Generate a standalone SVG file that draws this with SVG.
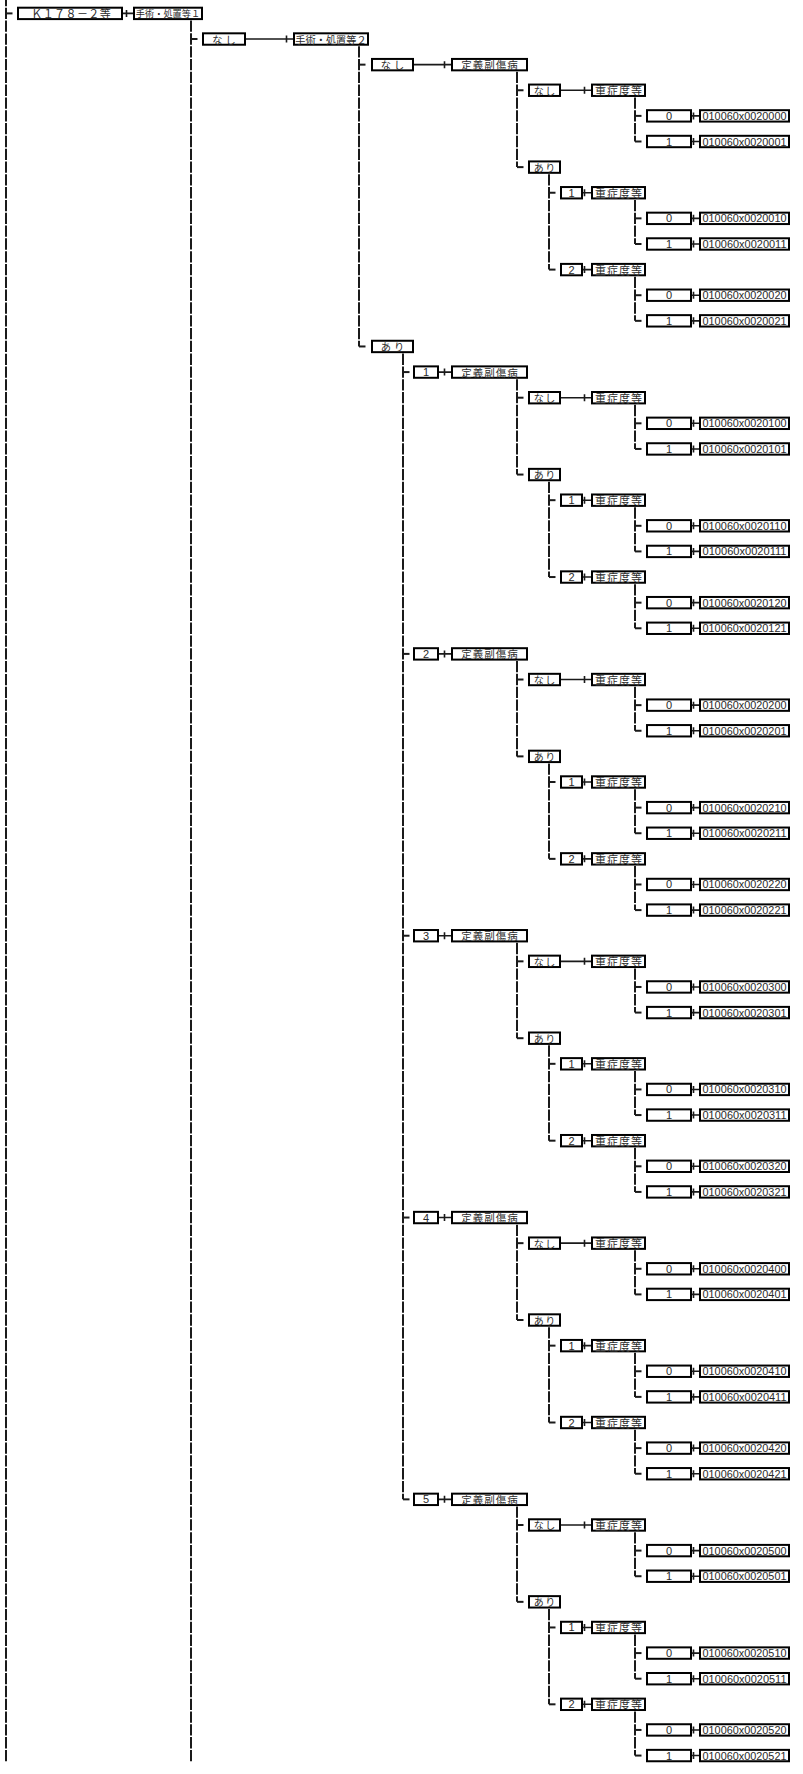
<svg xmlns="http://www.w3.org/2000/svg" width="803" height="1774" viewBox="0 0 803 1774">
<style>
.b{fill:#fff;stroke:#000;stroke-width:2}
text{fill:#2a2a2a;text-anchor:middle;dominant-baseline:central}
.j{font-family:"Noto Sans CJK JP","Noto Sans CJK SC",sans-serif}
.k{font-size:11px;letter-spacing:0.4px}
.s1{font-size:9.2px}
.s2{font-size:10.2px}
.l2{font-size:10.2px;letter-spacing:3px}
.tg{font-size:10.5px;letter-spacing:1px}
.l4{font-size:10px;letter-spacing:1.5px}
.jy{font-size:11px;letter-spacing:1px}
.d{font-family:"Liberation Sans",Arial,sans-serif;font-size:11px}
.c{font-family:"Liberation Sans",Arial,sans-serif;font-size:11.5px}
.v{fill:none;stroke:#1a1a1a;stroke-width:2;stroke-dasharray:11.3 1.51}
.s{fill:none;stroke:#1a1a1a;stroke-width:2}
.h{fill:none;stroke:#1a1a1a;stroke-width:1.6}
</style>
<rect width="803" height="1774" fill="#fff"/>
<g id="connectors">
<path class="v" style="stroke-dashoffset:5.05" d="M6 0V1761.25"/>
<path class="v" d="M191 20.55V1761.25"/>
<path class="v" d="M359 46.17V346.46"/>
<path class="v" d="M403 353.61V1499.36"/>
<path class="v" d="M517 71.79V167.12"/>
<path class="v" d="M517 379.23V474.56"/>
<path class="v" d="M517 661.05V756.38"/>
<path class="v" d="M517 942.87V1038.2"/>
<path class="v" d="M517 1224.69V1320.02"/>
<path class="v" d="M517 1506.51V1601.84"/>
<path class="v" d="M549 174.27V269.6"/>
<path class="v" d="M549 481.71V577.04"/>
<path class="v" d="M549 763.53V858.86"/>
<path class="v" d="M549 1045.35V1140.68"/>
<path class="v" d="M549 1327.17V1422.5"/>
<path class="v" d="M549 1608.99V1704.32"/>
<path class="v" d="M635 97.41V141.5"/>
<path class="v" d="M635 199.89V243.98"/>
<path class="v" d="M635 276.75V320.84"/>
<path class="v" d="M635 404.85V448.94"/>
<path class="v" d="M635 507.33V551.42"/>
<path class="v" d="M635 584.19V628.28"/>
<path class="v" d="M635 686.67V730.76"/>
<path class="v" d="M635 789.15V833.24"/>
<path class="v" d="M635 866.01V910.1"/>
<path class="v" d="M635 968.49V1012.58"/>
<path class="v" d="M635 1070.97V1115.06"/>
<path class="v" d="M635 1147.83V1191.92"/>
<path class="v" d="M635 1250.31V1294.4"/>
<path class="v" d="M635 1352.79V1396.88"/>
<path class="v" d="M635 1429.65V1473.74"/>
<path class="v" d="M635 1532.13V1576.22"/>
<path class="v" d="M635 1634.61V1678.7"/>
<path class="v" d="M635 1711.47V1755.56"/>
<path class="s" d="M6 13.4h6.5"/>
<path class="s" d="M191 39.02h6.5"/>
<path class="s" d="M359 64.64h6.5"/>
<path class="s" d="M359 346.46h6.5"/>
<path class="s" d="M403 372.08h6.5"/>
<path class="s" d="M403 653.9h6.5"/>
<path class="s" d="M403 935.72h6.5"/>
<path class="s" d="M403 1217.54h6.5"/>
<path class="s" d="M403 1499.36h6.5"/>
<path class="s" d="M517 90.26h6.5"/>
<path class="s" d="M517 167.12h6.5"/>
<path class="s" d="M517 397.7h6.5"/>
<path class="s" d="M517 474.56h6.5"/>
<path class="s" d="M517 679.52h6.5"/>
<path class="s" d="M517 756.38h6.5"/>
<path class="s" d="M517 961.34h6.5"/>
<path class="s" d="M517 1038.2h6.5"/>
<path class="s" d="M517 1243.16h6.5"/>
<path class="s" d="M517 1320.02h6.5"/>
<path class="s" d="M517 1524.98h6.5"/>
<path class="s" d="M517 1601.84h6.5"/>
<path class="s" d="M549 192.74h6.5"/>
<path class="s" d="M549 269.6h6.5"/>
<path class="s" d="M549 500.18h6.5"/>
<path class="s" d="M549 577.04h6.5"/>
<path class="s" d="M549 782h6.5"/>
<path class="s" d="M549 858.86h6.5"/>
<path class="s" d="M549 1063.82h6.5"/>
<path class="s" d="M549 1140.68h6.5"/>
<path class="s" d="M549 1345.64h6.5"/>
<path class="s" d="M549 1422.5h6.5"/>
<path class="s" d="M549 1627.46h6.5"/>
<path class="s" d="M549 1704.32h6.5"/>
<path class="s" d="M635 115.88h6.5"/>
<path class="s" d="M635 141.5h6.5"/>
<path class="s" d="M635 218.36h6.5"/>
<path class="s" d="M635 243.98h6.5"/>
<path class="s" d="M635 295.22h6.5"/>
<path class="s" d="M635 320.84h6.5"/>
<path class="s" d="M635 423.32h6.5"/>
<path class="s" d="M635 448.94h6.5"/>
<path class="s" d="M635 525.8h6.5"/>
<path class="s" d="M635 551.42h6.5"/>
<path class="s" d="M635 602.66h6.5"/>
<path class="s" d="M635 628.28h6.5"/>
<path class="s" d="M635 705.14h6.5"/>
<path class="s" d="M635 730.76h6.5"/>
<path class="s" d="M635 807.62h6.5"/>
<path class="s" d="M635 833.24h6.5"/>
<path class="s" d="M635 884.48h6.5"/>
<path class="s" d="M635 910.1h6.5"/>
<path class="s" d="M635 986.96h6.5"/>
<path class="s" d="M635 1012.58h6.5"/>
<path class="s" d="M635 1089.44h6.5"/>
<path class="s" d="M635 1115.06h6.5"/>
<path class="s" d="M635 1166.3h6.5"/>
<path class="s" d="M635 1191.92h6.5"/>
<path class="s" d="M635 1268.78h6.5"/>
<path class="s" d="M635 1294.4h6.5"/>
<path class="s" d="M635 1371.26h6.5"/>
<path class="s" d="M635 1396.88h6.5"/>
<path class="s" d="M635 1448.12h6.5"/>
<path class="s" d="M635 1473.74h6.5"/>
<path class="s" d="M635 1550.6h6.5"/>
<path class="s" d="M635 1576.22h6.5"/>
<path class="s" d="M635 1653.08h6.5"/>
<path class="s" d="M635 1678.7h6.5"/>
<path class="s" d="M635 1729.94h6.5"/>
<path class="s" d="M635 1755.56h6.5"/>
<path class="h" d="M123 13.4h10m-6.5-3.5v7"/>
<path class="h" d="M246 39.02h47m-6.5-3.5v7"/>
<path class="h" d="M414 64.64h37m-6.5-3.5v7"/>
<path class="h" d="M439 372.08h12m-6.5-3.5v7"/>
<path class="h" d="M439 653.9h12m-6.5-3.5v7"/>
<path class="h" d="M439 935.72h12m-6.5-3.5v7"/>
<path class="h" d="M439 1217.54h12m-6.5-3.5v7"/>
<path class="h" d="M439 1499.36h12m-6.5-3.5v7"/>
<path class="h" d="M561 90.26h30m-6.5-3.5v7"/>
<path class="h" d="M561 397.7h30m-6.5-3.5v7"/>
<path class="h" d="M561 679.52h30m-6.5-3.5v7"/>
<path class="h" d="M561 961.34h30m-6.5-3.5v7"/>
<path class="h" d="M561 1243.16h30m-6.5-3.5v7"/>
<path class="h" d="M561 1524.98h30m-6.5-3.5v7"/>
<path class="h" d="M583 192.74h8m-6.5-3.5v7"/>
<path class="h" d="M583 269.6h8m-6.5-3.5v7"/>
<path class="h" d="M583 500.18h8m-6.5-3.5v7"/>
<path class="h" d="M583 577.04h8m-6.5-3.5v7"/>
<path class="h" d="M583 782h8m-6.5-3.5v7"/>
<path class="h" d="M583 858.86h8m-6.5-3.5v7"/>
<path class="h" d="M583 1063.82h8m-6.5-3.5v7"/>
<path class="h" d="M583 1140.68h8m-6.5-3.5v7"/>
<path class="h" d="M583 1345.64h8m-6.5-3.5v7"/>
<path class="h" d="M583 1422.5h8m-6.5-3.5v7"/>
<path class="h" d="M583 1627.46h8m-6.5-3.5v7"/>
<path class="h" d="M583 1704.32h8m-6.5-3.5v7"/>
<path class="h" d="M692 115.88h7m-5.5-3.5v7"/>
<path class="h" d="M692 141.5h7m-5.5-3.5v7"/>
<path class="h" d="M692 218.36h7m-5.5-3.5v7"/>
<path class="h" d="M692 243.98h7m-5.5-3.5v7"/>
<path class="h" d="M692 295.22h7m-5.5-3.5v7"/>
<path class="h" d="M692 320.84h7m-5.5-3.5v7"/>
<path class="h" d="M692 423.32h7m-5.5-3.5v7"/>
<path class="h" d="M692 448.94h7m-5.5-3.5v7"/>
<path class="h" d="M692 525.8h7m-5.5-3.5v7"/>
<path class="h" d="M692 551.42h7m-5.5-3.5v7"/>
<path class="h" d="M692 602.66h7m-5.5-3.5v7"/>
<path class="h" d="M692 628.28h7m-5.5-3.5v7"/>
<path class="h" d="M692 705.14h7m-5.5-3.5v7"/>
<path class="h" d="M692 730.76h7m-5.5-3.5v7"/>
<path class="h" d="M692 807.62h7m-5.5-3.5v7"/>
<path class="h" d="M692 833.24h7m-5.5-3.5v7"/>
<path class="h" d="M692 884.48h7m-5.5-3.5v7"/>
<path class="h" d="M692 910.1h7m-5.5-3.5v7"/>
<path class="h" d="M692 986.96h7m-5.5-3.5v7"/>
<path class="h" d="M692 1012.58h7m-5.5-3.5v7"/>
<path class="h" d="M692 1089.44h7m-5.5-3.5v7"/>
<path class="h" d="M692 1115.06h7m-5.5-3.5v7"/>
<path class="h" d="M692 1166.3h7m-5.5-3.5v7"/>
<path class="h" d="M692 1191.92h7m-5.5-3.5v7"/>
<path class="h" d="M692 1268.78h7m-5.5-3.5v7"/>
<path class="h" d="M692 1294.4h7m-5.5-3.5v7"/>
<path class="h" d="M692 1371.26h7m-5.5-3.5v7"/>
<path class="h" d="M692 1396.88h7m-5.5-3.5v7"/>
<path class="h" d="M692 1448.12h7m-5.5-3.5v7"/>
<path class="h" d="M692 1473.74h7m-5.5-3.5v7"/>
<path class="h" d="M692 1550.6h7m-5.5-3.5v7"/>
<path class="h" d="M692 1576.22h7m-5.5-3.5v7"/>
<path class="h" d="M692 1653.08h7m-5.5-3.5v7"/>
<path class="h" d="M692 1678.7h7m-5.5-3.5v7"/>
<path class="h" d="M692 1729.94h7m-5.5-3.5v7"/>
<path class="h" d="M692 1755.56h7m-5.5-3.5v7"/>
</g>
<g id="nodes">
<g id="r00-k178" transform="translate(0 13.4)"><rect class="b" x="18" y="-5.7" width="104" height="11.4"/><text class="j k" x="71.2">Ｋ１７８－２等</text></g>
<g id="r00-shochi1" transform="translate(0 13.4)"><rect class="b" x="134" y="-5.7" width="68" height="11.4"/><text class="j s1" x="168">手術・処置等１</text></g>
<g id="r01-nashi" transform="translate(0 39.02)"><rect class="b" x="203" y="-5.7" width="42" height="11.4"/><text class="j l2" x="225.5">なし</text></g>
<g id="r01-shochi2" transform="translate(0 39.02)"><rect class="b" x="294" y="-5.7" width="74" height="11.4"/><text class="j s2" x="331">手術・処置等２</text></g>
<g id="r02-nashi" transform="translate(0 64.64)"><rect class="b" x="372" y="-5.7" width="41" height="11.4"/><text class="j l2" x="394">なし</text></g>
<g id="r02-teigi" transform="translate(0 64.64)"><rect class="b" x="452" y="-5.7" width="75" height="11.4"/><text class="j tg" x="490">定義副傷病</text></g>
<g id="r03-nashi" transform="translate(0 90.26)"><rect class="b" x="529" y="-5.7" width="31" height="11.4"/><text class="j l4" x="545.25">なし</text></g>
<g id="r03-jusho" transform="translate(0 90.26)"><rect class="b" x="592" y="-5.7" width="53" height="11.4"/><text class="j jy" x="619">重症度等</text></g>
<g id="r04-val" transform="translate(0 115.88)"><rect class="b" x="647" y="-5.7" width="44" height="11.4"/><text class="d" x="669">0</text></g>
<g id="r04-code" transform="translate(0 115.88)"><rect class="b" x="700" y="-5.7" width="89" height="11.4"/><text class="c" x="744.5" textLength="84" lengthAdjust="spacingAndGlyphs">010060x0020000</text></g>
<g id="r05-val" transform="translate(0 141.5)"><rect class="b" x="647" y="-5.7" width="44" height="11.4"/><text class="d" x="669">1</text></g>
<g id="r05-code" transform="translate(0 141.5)"><rect class="b" x="700" y="-5.7" width="89" height="11.4"/><text class="c" x="744.5" textLength="84" lengthAdjust="spacingAndGlyphs">010060x0020001</text></g>
<g id="r06-ari" transform="translate(0 167.12)"><rect class="b" x="529" y="-5.7" width="31" height="11.4"/><text class="j l4" x="545.25">あり</text></g>
<g id="r07-num" transform="translate(0 192.74)"><rect class="b" x="561" y="-5.7" width="21" height="11.4"/><text class="d" x="571.5">1</text></g>
<g id="r07-jusho" transform="translate(0 192.74)"><rect class="b" x="592" y="-5.7" width="53" height="11.4"/><text class="j jy" x="619">重症度等</text></g>
<g id="r08-val" transform="translate(0 218.36)"><rect class="b" x="647" y="-5.7" width="44" height="11.4"/><text class="d" x="669">0</text></g>
<g id="r08-code" transform="translate(0 218.36)"><rect class="b" x="700" y="-5.7" width="89" height="11.4"/><text class="c" x="744.5" textLength="84" lengthAdjust="spacingAndGlyphs">010060x0020010</text></g>
<g id="r09-val" transform="translate(0 243.98)"><rect class="b" x="647" y="-5.7" width="44" height="11.4"/><text class="d" x="669">1</text></g>
<g id="r09-code" transform="translate(0 243.98)"><rect class="b" x="700" y="-5.7" width="89" height="11.4"/><text class="c" x="744.5" textLength="84" lengthAdjust="spacingAndGlyphs">010060x0020011</text></g>
<g id="r10-num" transform="translate(0 269.6)"><rect class="b" x="561" y="-5.7" width="21" height="11.4"/><text class="d" x="571.5">2</text></g>
<g id="r10-jusho" transform="translate(0 269.6)"><rect class="b" x="592" y="-5.7" width="53" height="11.4"/><text class="j jy" x="619">重症度等</text></g>
<g id="r11-val" transform="translate(0 295.22)"><rect class="b" x="647" y="-5.7" width="44" height="11.4"/><text class="d" x="669">0</text></g>
<g id="r11-code" transform="translate(0 295.22)"><rect class="b" x="700" y="-5.7" width="89" height="11.4"/><text class="c" x="744.5" textLength="84" lengthAdjust="spacingAndGlyphs">010060x0020020</text></g>
<g id="r12-val" transform="translate(0 320.84)"><rect class="b" x="647" y="-5.7" width="44" height="11.4"/><text class="d" x="669">1</text></g>
<g id="r12-code" transform="translate(0 320.84)"><rect class="b" x="700" y="-5.7" width="89" height="11.4"/><text class="c" x="744.5" textLength="84" lengthAdjust="spacingAndGlyphs">010060x0020021</text></g>
<g id="r13-ari" transform="translate(0 346.46)"><rect class="b" x="372" y="-5.7" width="41" height="11.4"/><text class="j l2" x="394">あり</text></g>

<g id="r14-grp" transform="translate(0 372.08)"><rect class="b" x="414" y="-5.7" width="24" height="11.4"/><text class="d" x="426">1</text></g>
<g id="r14-teigi" transform="translate(0 372.08)"><rect class="b" x="452" y="-5.7" width="75" height="11.4"/><text class="j tg" x="490">定義副傷病</text></g>
<g id="r15-nashi" transform="translate(0 397.7)"><rect class="b" x="529" y="-5.7" width="31" height="11.4"/><text class="j l4" x="545.25">なし</text></g>
<g id="r15-jusho" transform="translate(0 397.7)"><rect class="b" x="592" y="-5.7" width="53" height="11.4"/><text class="j jy" x="619">重症度等</text></g>
<g id="r16-val" transform="translate(0 423.32)"><rect class="b" x="647" y="-5.7" width="44" height="11.4"/><text class="d" x="669">0</text></g>
<g id="r16-code" transform="translate(0 423.32)"><rect class="b" x="700" y="-5.7" width="89" height="11.4"/><text class="c" x="744.5" textLength="84" lengthAdjust="spacingAndGlyphs">010060x0020100</text></g>
<g id="r17-val" transform="translate(0 448.94)"><rect class="b" x="647" y="-5.7" width="44" height="11.4"/><text class="d" x="669">1</text></g>
<g id="r17-code" transform="translate(0 448.94)"><rect class="b" x="700" y="-5.7" width="89" height="11.4"/><text class="c" x="744.5" textLength="84" lengthAdjust="spacingAndGlyphs">010060x0020101</text></g>
<g id="r18-ari" transform="translate(0 474.56)"><rect class="b" x="529" y="-5.7" width="31" height="11.4"/><text class="j l4" x="545.25">あり</text></g>
<g id="r19-num" transform="translate(0 500.18)"><rect class="b" x="561" y="-5.7" width="21" height="11.4"/><text class="d" x="571.5">1</text></g>
<g id="r19-jusho" transform="translate(0 500.18)"><rect class="b" x="592" y="-5.7" width="53" height="11.4"/><text class="j jy" x="619">重症度等</text></g>
<g id="r20-val" transform="translate(0 525.8)"><rect class="b" x="647" y="-5.7" width="44" height="11.4"/><text class="d" x="669">0</text></g>
<g id="r20-code" transform="translate(0 525.8)"><rect class="b" x="700" y="-5.7" width="89" height="11.4"/><text class="c" x="744.5" textLength="84" lengthAdjust="spacingAndGlyphs">010060x0020110</text></g>
<g id="r21-val" transform="translate(0 551.42)"><rect class="b" x="647" y="-5.7" width="44" height="11.4"/><text class="d" x="669">1</text></g>
<g id="r21-code" transform="translate(0 551.42)"><rect class="b" x="700" y="-5.7" width="89" height="11.4"/><text class="c" x="744.5" textLength="84" lengthAdjust="spacingAndGlyphs">010060x0020111</text></g>
<g id="r22-num" transform="translate(0 577.04)"><rect class="b" x="561" y="-5.7" width="21" height="11.4"/><text class="d" x="571.5">2</text></g>
<g id="r22-jusho" transform="translate(0 577.04)"><rect class="b" x="592" y="-5.7" width="53" height="11.4"/><text class="j jy" x="619">重症度等</text></g>
<g id="r23-val" transform="translate(0 602.66)"><rect class="b" x="647" y="-5.7" width="44" height="11.4"/><text class="d" x="669">0</text></g>
<g id="r23-code" transform="translate(0 602.66)"><rect class="b" x="700" y="-5.7" width="89" height="11.4"/><text class="c" x="744.5" textLength="84" lengthAdjust="spacingAndGlyphs">010060x0020120</text></g>
<g id="r24-val" transform="translate(0 628.28)"><rect class="b" x="647" y="-5.7" width="44" height="11.4"/><text class="d" x="669">1</text></g>
<g id="r24-code" transform="translate(0 628.28)"><rect class="b" x="700" y="-5.7" width="89" height="11.4"/><text class="c" x="744.5" textLength="84" lengthAdjust="spacingAndGlyphs">010060x0020121</text></g>

<g id="r25-grp" transform="translate(0 653.9)"><rect class="b" x="414" y="-5.7" width="24" height="11.4"/><text class="d" x="426">2</text></g>
<g id="r25-teigi" transform="translate(0 653.9)"><rect class="b" x="452" y="-5.7" width="75" height="11.4"/><text class="j tg" x="490">定義副傷病</text></g>
<g id="r26-nashi" transform="translate(0 679.52)"><rect class="b" x="529" y="-5.7" width="31" height="11.4"/><text class="j l4" x="545.25">なし</text></g>
<g id="r26-jusho" transform="translate(0 679.52)"><rect class="b" x="592" y="-5.7" width="53" height="11.4"/><text class="j jy" x="619">重症度等</text></g>
<g id="r27-val" transform="translate(0 705.14)"><rect class="b" x="647" y="-5.7" width="44" height="11.4"/><text class="d" x="669">0</text></g>
<g id="r27-code" transform="translate(0 705.14)"><rect class="b" x="700" y="-5.7" width="89" height="11.4"/><text class="c" x="744.5" textLength="84" lengthAdjust="spacingAndGlyphs">010060x0020200</text></g>
<g id="r28-val" transform="translate(0 730.76)"><rect class="b" x="647" y="-5.7" width="44" height="11.4"/><text class="d" x="669">1</text></g>
<g id="r28-code" transform="translate(0 730.76)"><rect class="b" x="700" y="-5.7" width="89" height="11.4"/><text class="c" x="744.5" textLength="84" lengthAdjust="spacingAndGlyphs">010060x0020201</text></g>
<g id="r29-ari" transform="translate(0 756.38)"><rect class="b" x="529" y="-5.7" width="31" height="11.4"/><text class="j l4" x="545.25">あり</text></g>
<g id="r30-num" transform="translate(0 782)"><rect class="b" x="561" y="-5.7" width="21" height="11.4"/><text class="d" x="571.5">1</text></g>
<g id="r30-jusho" transform="translate(0 782)"><rect class="b" x="592" y="-5.7" width="53" height="11.4"/><text class="j jy" x="619">重症度等</text></g>
<g id="r31-val" transform="translate(0 807.62)"><rect class="b" x="647" y="-5.7" width="44" height="11.4"/><text class="d" x="669">0</text></g>
<g id="r31-code" transform="translate(0 807.62)"><rect class="b" x="700" y="-5.7" width="89" height="11.4"/><text class="c" x="744.5" textLength="84" lengthAdjust="spacingAndGlyphs">010060x0020210</text></g>
<g id="r32-val" transform="translate(0 833.24)"><rect class="b" x="647" y="-5.7" width="44" height="11.4"/><text class="d" x="669">1</text></g>
<g id="r32-code" transform="translate(0 833.24)"><rect class="b" x="700" y="-5.7" width="89" height="11.4"/><text class="c" x="744.5" textLength="84" lengthAdjust="spacingAndGlyphs">010060x0020211</text></g>
<g id="r33-num" transform="translate(0 858.86)"><rect class="b" x="561" y="-5.7" width="21" height="11.4"/><text class="d" x="571.5">2</text></g>
<g id="r33-jusho" transform="translate(0 858.86)"><rect class="b" x="592" y="-5.7" width="53" height="11.4"/><text class="j jy" x="619">重症度等</text></g>
<g id="r34-val" transform="translate(0 884.48)"><rect class="b" x="647" y="-5.7" width="44" height="11.4"/><text class="d" x="669">0</text></g>
<g id="r34-code" transform="translate(0 884.48)"><rect class="b" x="700" y="-5.7" width="89" height="11.4"/><text class="c" x="744.5" textLength="84" lengthAdjust="spacingAndGlyphs">010060x0020220</text></g>
<g id="r35-val" transform="translate(0 910.1)"><rect class="b" x="647" y="-5.7" width="44" height="11.4"/><text class="d" x="669">1</text></g>
<g id="r35-code" transform="translate(0 910.1)"><rect class="b" x="700" y="-5.7" width="89" height="11.4"/><text class="c" x="744.5" textLength="84" lengthAdjust="spacingAndGlyphs">010060x0020221</text></g>

<g id="r36-grp" transform="translate(0 935.72)"><rect class="b" x="414" y="-5.7" width="24" height="11.4"/><text class="d" x="426">3</text></g>
<g id="r36-teigi" transform="translate(0 935.72)"><rect class="b" x="452" y="-5.7" width="75" height="11.4"/><text class="j tg" x="490">定義副傷病</text></g>
<g id="r37-nashi" transform="translate(0 961.34)"><rect class="b" x="529" y="-5.7" width="31" height="11.4"/><text class="j l4" x="545.25">なし</text></g>
<g id="r37-jusho" transform="translate(0 961.34)"><rect class="b" x="592" y="-5.7" width="53" height="11.4"/><text class="j jy" x="619">重症度等</text></g>
<g id="r38-val" transform="translate(0 986.96)"><rect class="b" x="647" y="-5.7" width="44" height="11.4"/><text class="d" x="669">0</text></g>
<g id="r38-code" transform="translate(0 986.96)"><rect class="b" x="700" y="-5.7" width="89" height="11.4"/><text class="c" x="744.5" textLength="84" lengthAdjust="spacingAndGlyphs">010060x0020300</text></g>
<g id="r39-val" transform="translate(0 1012.58)"><rect class="b" x="647" y="-5.7" width="44" height="11.4"/><text class="d" x="669">1</text></g>
<g id="r39-code" transform="translate(0 1012.58)"><rect class="b" x="700" y="-5.7" width="89" height="11.4"/><text class="c" x="744.5" textLength="84" lengthAdjust="spacingAndGlyphs">010060x0020301</text></g>
<g id="r40-ari" transform="translate(0 1038.2)"><rect class="b" x="529" y="-5.7" width="31" height="11.4"/><text class="j l4" x="545.25">あり</text></g>
<g id="r41-num" transform="translate(0 1063.82)"><rect class="b" x="561" y="-5.7" width="21" height="11.4"/><text class="d" x="571.5">1</text></g>
<g id="r41-jusho" transform="translate(0 1063.82)"><rect class="b" x="592" y="-5.7" width="53" height="11.4"/><text class="j jy" x="619">重症度等</text></g>
<g id="r42-val" transform="translate(0 1089.44)"><rect class="b" x="647" y="-5.7" width="44" height="11.4"/><text class="d" x="669">0</text></g>
<g id="r42-code" transform="translate(0 1089.44)"><rect class="b" x="700" y="-5.7" width="89" height="11.4"/><text class="c" x="744.5" textLength="84" lengthAdjust="spacingAndGlyphs">010060x0020310</text></g>
<g id="r43-val" transform="translate(0 1115.06)"><rect class="b" x="647" y="-5.7" width="44" height="11.4"/><text class="d" x="669">1</text></g>
<g id="r43-code" transform="translate(0 1115.06)"><rect class="b" x="700" y="-5.7" width="89" height="11.4"/><text class="c" x="744.5" textLength="84" lengthAdjust="spacingAndGlyphs">010060x0020311</text></g>
<g id="r44-num" transform="translate(0 1140.68)"><rect class="b" x="561" y="-5.7" width="21" height="11.4"/><text class="d" x="571.5">2</text></g>
<g id="r44-jusho" transform="translate(0 1140.68)"><rect class="b" x="592" y="-5.7" width="53" height="11.4"/><text class="j jy" x="619">重症度等</text></g>
<g id="r45-val" transform="translate(0 1166.3)"><rect class="b" x="647" y="-5.7" width="44" height="11.4"/><text class="d" x="669">0</text></g>
<g id="r45-code" transform="translate(0 1166.3)"><rect class="b" x="700" y="-5.7" width="89" height="11.4"/><text class="c" x="744.5" textLength="84" lengthAdjust="spacingAndGlyphs">010060x0020320</text></g>
<g id="r46-val" transform="translate(0 1191.92)"><rect class="b" x="647" y="-5.7" width="44" height="11.4"/><text class="d" x="669">1</text></g>
<g id="r46-code" transform="translate(0 1191.92)"><rect class="b" x="700" y="-5.7" width="89" height="11.4"/><text class="c" x="744.5" textLength="84" lengthAdjust="spacingAndGlyphs">010060x0020321</text></g>

<g id="r47-grp" transform="translate(0 1217.54)"><rect class="b" x="414" y="-5.7" width="24" height="11.4"/><text class="d" x="426">4</text></g>
<g id="r47-teigi" transform="translate(0 1217.54)"><rect class="b" x="452" y="-5.7" width="75" height="11.4"/><text class="j tg" x="490">定義副傷病</text></g>
<g id="r48-nashi" transform="translate(0 1243.16)"><rect class="b" x="529" y="-5.7" width="31" height="11.4"/><text class="j l4" x="545.25">なし</text></g>
<g id="r48-jusho" transform="translate(0 1243.16)"><rect class="b" x="592" y="-5.7" width="53" height="11.4"/><text class="j jy" x="619">重症度等</text></g>
<g id="r49-val" transform="translate(0 1268.78)"><rect class="b" x="647" y="-5.7" width="44" height="11.4"/><text class="d" x="669">0</text></g>
<g id="r49-code" transform="translate(0 1268.78)"><rect class="b" x="700" y="-5.7" width="89" height="11.4"/><text class="c" x="744.5" textLength="84" lengthAdjust="spacingAndGlyphs">010060x0020400</text></g>
<g id="r50-val" transform="translate(0 1294.4)"><rect class="b" x="647" y="-5.7" width="44" height="11.4"/><text class="d" x="669">1</text></g>
<g id="r50-code" transform="translate(0 1294.4)"><rect class="b" x="700" y="-5.7" width="89" height="11.4"/><text class="c" x="744.5" textLength="84" lengthAdjust="spacingAndGlyphs">010060x0020401</text></g>
<g id="r51-ari" transform="translate(0 1320.02)"><rect class="b" x="529" y="-5.7" width="31" height="11.4"/><text class="j l4" x="545.25">あり</text></g>
<g id="r52-num" transform="translate(0 1345.64)"><rect class="b" x="561" y="-5.7" width="21" height="11.4"/><text class="d" x="571.5">1</text></g>
<g id="r52-jusho" transform="translate(0 1345.64)"><rect class="b" x="592" y="-5.7" width="53" height="11.4"/><text class="j jy" x="619">重症度等</text></g>
<g id="r53-val" transform="translate(0 1371.26)"><rect class="b" x="647" y="-5.7" width="44" height="11.4"/><text class="d" x="669">0</text></g>
<g id="r53-code" transform="translate(0 1371.26)"><rect class="b" x="700" y="-5.7" width="89" height="11.4"/><text class="c" x="744.5" textLength="84" lengthAdjust="spacingAndGlyphs">010060x0020410</text></g>
<g id="r54-val" transform="translate(0 1396.88)"><rect class="b" x="647" y="-5.7" width="44" height="11.4"/><text class="d" x="669">1</text></g>
<g id="r54-code" transform="translate(0 1396.88)"><rect class="b" x="700" y="-5.7" width="89" height="11.4"/><text class="c" x="744.5" textLength="84" lengthAdjust="spacingAndGlyphs">010060x0020411</text></g>
<g id="r55-num" transform="translate(0 1422.5)"><rect class="b" x="561" y="-5.7" width="21" height="11.4"/><text class="d" x="571.5">2</text></g>
<g id="r55-jusho" transform="translate(0 1422.5)"><rect class="b" x="592" y="-5.7" width="53" height="11.4"/><text class="j jy" x="619">重症度等</text></g>
<g id="r56-val" transform="translate(0 1448.12)"><rect class="b" x="647" y="-5.7" width="44" height="11.4"/><text class="d" x="669">0</text></g>
<g id="r56-code" transform="translate(0 1448.12)"><rect class="b" x="700" y="-5.7" width="89" height="11.4"/><text class="c" x="744.5" textLength="84" lengthAdjust="spacingAndGlyphs">010060x0020420</text></g>
<g id="r57-val" transform="translate(0 1473.74)"><rect class="b" x="647" y="-5.7" width="44" height="11.4"/><text class="d" x="669">1</text></g>
<g id="r57-code" transform="translate(0 1473.74)"><rect class="b" x="700" y="-5.7" width="89" height="11.4"/><text class="c" x="744.5" textLength="84" lengthAdjust="spacingAndGlyphs">010060x0020421</text></g>

<g id="r58-grp" transform="translate(0 1499.36)"><rect class="b" x="414" y="-5.7" width="24" height="11.4"/><text class="d" x="426">5</text></g>
<g id="r58-teigi" transform="translate(0 1499.36)"><rect class="b" x="452" y="-5.7" width="75" height="11.4"/><text class="j tg" x="490">定義副傷病</text></g>
<g id="r59-nashi" transform="translate(0 1524.98)"><rect class="b" x="529" y="-5.7" width="31" height="11.4"/><text class="j l4" x="545.25">なし</text></g>
<g id="r59-jusho" transform="translate(0 1524.98)"><rect class="b" x="592" y="-5.7" width="53" height="11.4"/><text class="j jy" x="619">重症度等</text></g>
<g id="r60-val" transform="translate(0 1550.6)"><rect class="b" x="647" y="-5.7" width="44" height="11.4"/><text class="d" x="669">0</text></g>
<g id="r60-code" transform="translate(0 1550.6)"><rect class="b" x="700" y="-5.7" width="89" height="11.4"/><text class="c" x="744.5" textLength="84" lengthAdjust="spacingAndGlyphs">010060x0020500</text></g>
<g id="r61-val" transform="translate(0 1576.22)"><rect class="b" x="647" y="-5.7" width="44" height="11.4"/><text class="d" x="669">1</text></g>
<g id="r61-code" transform="translate(0 1576.22)"><rect class="b" x="700" y="-5.7" width="89" height="11.4"/><text class="c" x="744.5" textLength="84" lengthAdjust="spacingAndGlyphs">010060x0020501</text></g>
<g id="r62-ari" transform="translate(0 1601.84)"><rect class="b" x="529" y="-5.7" width="31" height="11.4"/><text class="j l4" x="545.25">あり</text></g>
<g id="r63-num" transform="translate(0 1627.46)"><rect class="b" x="561" y="-5.7" width="21" height="11.4"/><text class="d" x="571.5">1</text></g>
<g id="r63-jusho" transform="translate(0 1627.46)"><rect class="b" x="592" y="-5.7" width="53" height="11.4"/><text class="j jy" x="619">重症度等</text></g>
<g id="r64-val" transform="translate(0 1653.08)"><rect class="b" x="647" y="-5.7" width="44" height="11.4"/><text class="d" x="669">0</text></g>
<g id="r64-code" transform="translate(0 1653.08)"><rect class="b" x="700" y="-5.7" width="89" height="11.4"/><text class="c" x="744.5" textLength="84" lengthAdjust="spacingAndGlyphs">010060x0020510</text></g>
<g id="r65-val" transform="translate(0 1678.7)"><rect class="b" x="647" y="-5.7" width="44" height="11.4"/><text class="d" x="669">1</text></g>
<g id="r65-code" transform="translate(0 1678.7)"><rect class="b" x="700" y="-5.7" width="89" height="11.4"/><text class="c" x="744.5" textLength="84" lengthAdjust="spacingAndGlyphs">010060x0020511</text></g>
<g id="r66-num" transform="translate(0 1704.32)"><rect class="b" x="561" y="-5.7" width="21" height="11.4"/><text class="d" x="571.5">2</text></g>
<g id="r66-jusho" transform="translate(0 1704.32)"><rect class="b" x="592" y="-5.7" width="53" height="11.4"/><text class="j jy" x="619">重症度等</text></g>
<g id="r67-val" transform="translate(0 1729.94)"><rect class="b" x="647" y="-5.7" width="44" height="11.4"/><text class="d" x="669">0</text></g>
<g id="r67-code" transform="translate(0 1729.94)"><rect class="b" x="700" y="-5.7" width="89" height="11.4"/><text class="c" x="744.5" textLength="84" lengthAdjust="spacingAndGlyphs">010060x0020520</text></g>
<g id="r68-val" transform="translate(0 1755.56)"><rect class="b" x="647" y="-5.7" width="44" height="11.4"/><text class="d" x="669">1</text></g>
<g id="r68-code" transform="translate(0 1755.56)"><rect class="b" x="700" y="-5.7" width="89" height="11.4"/><text class="c" x="744.5" textLength="84" lengthAdjust="spacingAndGlyphs">010060x0020521</text></g>
</g>
</svg>
